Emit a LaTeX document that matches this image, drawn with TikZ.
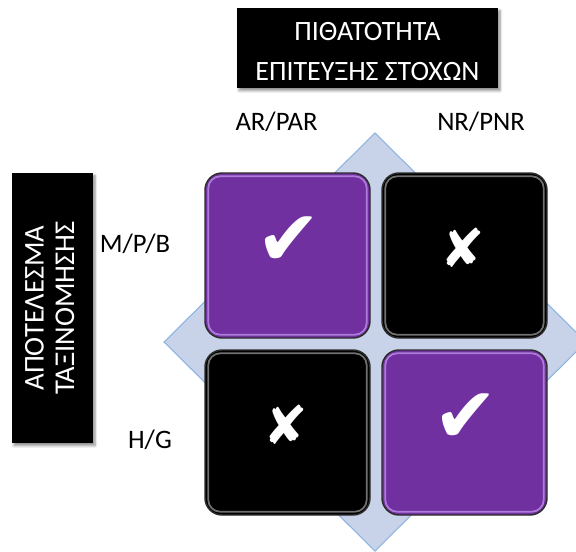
\documentclass[tikz,border=0pt]{standalone}
\usepackage{fontspec}
\usepackage{graphicx}
\setmainfont{Carlito}
\newfontfamily\symfont{DejaVu Sans}
\usetikzlibrary{shadows.blur}

\definecolor{tilepurple}{RGB}{112,48,160}
\definecolor{hlpurple}{RGB}{196,150,235}
\definecolor{hlgray}{RGB}{150,150,150}
\definecolor{rimgray}{RGB}{45,45,45}
\definecolor{diamfill}{RGB}{200,210,232}
\definecolor{diamdraw}{RGB}{141,180,226}

\begin{document}
\begin{tikzpicture}[x=0.75pt,y=-0.75pt,
  tile/.style={rectangle, rounded corners=12.75pt, minimum width=123.75pt,
    minimum height=123.75pt, inner sep=0pt, draw=rimgray, line width=1.1pt,
    text=white},
  purpletile/.style={tile, fill=tilepurple},
  blacktile/.style={tile, fill=black},
  checkmark/.style={font=\symfont\fontsize{58}{58}\selectfont},
  crossmark/.style={font=\symfont\fontsize{40}{40}\selectfont},
  headbox/.style={rectangle, fill=black, text=white, inner sep=0pt,
    blur shadow={shadow xshift=1.5pt, shadow yshift=-2pt, shadow blur steps=6, shadow opacity=45}},
  axislabel/.style={font=\fontsize{20}{24}\selectfont, inner sep=0pt, anchor=base},
  hl/.style={line width=1.3pt, rounded corners=9pt, opacity=0.75}
]
\useasboundingbox (0,0) rectangle (576,551);
\clip (0,0) rectangle (576,551);

% background diamond
\draw[fill=diamfill, draw=diamdraw, line width=0.8pt]
  (375,133) -- (586,342) -- (375,551) -- (164,342) -- cycle;

% header boxes
\node[headbox, minimum width=195.75pt, minimum height=60pt] (top) at (367.5,48)
  {\raisebox{-3.5pt}[\height][\depth]{\fontsize{21}{29.5}\selectfont\begin{tabular}{@{}c@{}}ΠΙΘΑΤΟΤΗΤΑ\\ΕΠΙΤΕΥΞΗΣ ΣΤΟΧΩΝ\end{tabular}}};
\node[headbox, minimum width=60.75pt, minimum height=202.5pt] (left) at (52.5,308)
  {\rotatebox{90}{\fontsize{21.5}{24}\selectfont\begin{tabular}{@{}c@{}}ΑΠΟΤΕΛΕΣΜΑ\\[-1pt]ΤΑΞΙΝΟΜΗΣΗΣ\end{tabular}}};

% axis labels
\node[axislabel] (arpar) at (276.5,130) {AR/PAR};
\node[axislabel] (nrpnr) at (481,130) {NR/PNR};
\node[axislabel] (mpb) at (135,252) {M/P/B};
\node[axislabel] (hg) at (150,448) {H/G};

% tiles
\node[purpletile] (tl) at (287.5,255.5) {};
\node[blacktile]  (tr) at (464.5,255.5) {};
\node[blacktile]  (bl) at (287.5,432.5) {};
\node[purpletile] (br) at (464.5,432.5) {};

\foreach \t/\c in {tl/hlpurple, tr/hlgray, bl/hlgray, br/hlpurple}
  \draw[hl, draw=\c] ([shift={(4,4)}]\t.north west) rectangle ([shift={(-4,-4)}]\t.south east);

% marks
\node[checkmark, text=white] (tlmark) at (289,241) {✔};
\node[crossmark, text=white] (trmark) at (463,248) {✘};
\node[crossmark, text=white] (blmark) at (286,425) {✘};
\node[checkmark, text=white] (brmark) at (466,418) {✔};
\end{tikzpicture}
\end{document}
